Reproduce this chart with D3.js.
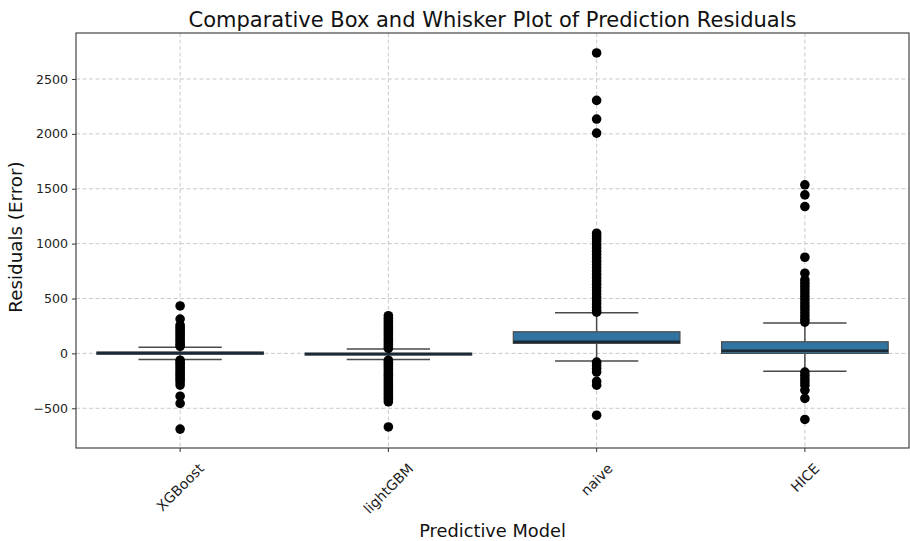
<!DOCTYPE html>
<html>
<head>
<meta charset="utf-8">
<script src="https://cdn.jsdelivr.net/npm/d3@7"></script>
<style>
  html, body { margin: 0; padding: 0; background: #fff; }
  svg { display: block; font-family: "DejaVu Sans", sans-serif; }
</style>
</head>
<body>
<svg id="chart" width="910" height="541"></svg>
<script>
// ---------------- data ----------------
const categories = ["XGBoost", "lightGBM", "naive", "HICE"];
const q1Values = [-8, -15, 91, 0];
const medianValues = [3, -6, 106, 24];
const q3Values = [12, 2, 197, 106];
const whiskerLow = [-55, -55, -70, -162];
const whiskerHigh = [55, 39, 370, 276];
const outliersXGBoost = [432, 313, 258, 240, 220, 200, 180, 160, 140, 120, 100, 80, 65,
  -62, -80, -100, -120, -140, -160, -180, -200, -220, -240, -260, -289, -390, -456, -690];
const outliersLightGBM = [343, 320, 300, 280, 260, 240, 220, 200, 180, 160, 140, 120, 100, 80, 60, 45,
  -62, -80, -100, -120, -140, -160, -180, -200, -220, -240, -260, -280, -300, -320, -340, -360, -380, -400, -420, -441, -670];
const outliersNaive = [2737, 2305, 2135, 2007, 1095, 1070, 1045, 1020, 990, 960, 930, 900, 870, 840, 810,
  780, 750, 720, 690, 660, 630, 600, 570, 540, 510, 480, 450, 420, 390, 375,
  -80, -110, -140, -170, -255, -290, -563];
const outliersHICE = [1536, 1444, 1338, 876, 730, 669, 640, 610, 580, 550, 520, 490, 460, 430, 400, 370, 340, 310, 285,
  -170, -200, -230, -260, -290, -335, -410, -602];
const outlierSets = [outliersXGBoost, outliersLightGBM, outliersNaive, outliersHICE];
const yTicks = [-500, 0, 500, 1000, 1500, 2000, 2500];
const yDomain = [-862, 2919];

const titleText = "Comparative Box and Whisker Plot of Prediction Residuals";
const xLabelText = "Predictive Model";
const yLabelText = "Residuals (Error)";

// ---------------- layout ----------------
(function () {
const mL = 76, mR = 909, mT = 33, mB = 448;
const svg = d3.select("#chart");

const x = d3.scaleBand().domain(categories).range([mL, mR]).paddingInner(0).paddingOuter(0);
const y = d3.scaleLinear().domain(yDomain).range([mB, mT]);
const bw = x.bandwidth();
const cx = c => x(c) + bw / 2;

const gridColor = "#bdbdbd";
svg.append("g").selectAll("line").data(yTicks).join("line")
  .attr("x1", mL).attr("x2", mR)
  .attr("y1", d => y(d)).attr("y2", d => y(d))
  .attr("stroke", gridColor).attr("stroke-width", 0.8).attr("stroke-dasharray", "4,2.5");
svg.append("g").selectAll("line").data(categories).join("line")
  .attr("x1", d => cx(d)).attr("x2", d => cx(d))
  .attr("y1", mT).attr("y2", mB)
  .attr("stroke", gridColor).attr("stroke-width", 0.8).attr("stroke-dasharray", "4,2.5");

const rows = categories.map((c, i) => ({
  c, q1: q1Values[i], med: medianValues[i], q3: q3Values[i],
  lo: whiskerLow[i], hi: whiskerHigh[i], out: outlierSets[i]
}));
const boxW = bw * 0.8;
const capW = boxW * 0.5;
const lineColor = "#4a4a4a";
const g = svg.append("g");
rows.forEach(r => {
  const xc = cx(r.c);
  g.append("line").attr("x1", xc).attr("x2", xc).attr("y1", y(r.q3)).attr("y2", y(r.hi))
    .attr("stroke", lineColor).attr("stroke-width", 1.5);
  g.append("line").attr("x1", xc).attr("x2", xc).attr("y1", y(r.q1)).attr("y2", y(r.lo))
    .attr("stroke", lineColor).attr("stroke-width", 1.5);
  [r.hi, r.lo].forEach(v => {
    g.append("line").attr("x1", xc - capW / 2).attr("x2", xc + capW / 2)
      .attr("y1", y(v)).attr("y2", y(v))
      .attr("stroke", lineColor).attr("stroke-width", 1.5);
  });
  g.append("rect").attr("x", xc - boxW / 2).attr("width", boxW)
    .attr("y", y(r.q3)).attr("height", Math.max(0.5, y(r.q1) - y(r.q3)))
    .attr("fill", "#3274a1").attr("stroke", "#4a4a4a").attr("stroke-width", 1.2);
  g.append("line").attr("x1", xc - boxW / 2).attr("x2", xc + boxW / 2)
    .attr("y1", y(r.med)).attr("y2", y(r.med))
    .attr("stroke", "#1b2a38").attr("stroke-width", 2.5);
  g.append("g").selectAll("circle").data(r.out).join("circle")
    .attr("cx", xc).attr("cy", d => y(d)).attr("r", 4.8).attr("fill", "#000");
});

svg.append("rect").attr("x", mL).attr("y", mT).attr("width", mR - mL).attr("height", mB - mT)
  .attr("fill", "none").attr("stroke", "#333").attr("stroke-width", 1.1);

const yAxis = svg.append("g").attr("transform", `translate(${mL},0)`)
  .call(d3.axisLeft(y).tickValues(yTicks).tickSize(4).tickPadding(4)
    .tickFormat(d => d < 0 ? "\u2212" + Math.abs(d) : String(d)));
yAxis.select(".domain").remove();
yAxis.selectAll("line").attr("stroke", "#333");
yAxis.selectAll("text").attr("font-size", 12.6).attr("fill", "#222")
  .attr("font-family", "DejaVu Sans, sans-serif");

const xAxis = svg.append("g").attr("transform", `translate(0,${mB})`)
  .call(d3.axisBottom(x).tickSize(4).tickFormat(""));
xAxis.select(".domain").remove();
xAxis.selectAll("line").attr("stroke", "#333");

const labelTop = 461;
const fs = 14;
categories.forEach(c => {
  const t = svg.append("text").text(c)
    .attr("font-size", fs).attr("fill", "#222")
    .attr("text-anchor", "middle").attr("dominant-baseline", "central");
  const L = t.node().getComputedTextLength();
  const h = (L + fs * 1.0) * Math.SQRT1_2;
  t.attr("transform", `translate(${cx(c)},${labelTop + h / 2}) rotate(-45)`);
});

svg.append("text").attr("x", (mL + mR) / 2).attr("y", 27)
  .attr("text-anchor", "middle").attr("font-size", 21).attr("fill", "#111").text(titleText);
svg.append("text").attr("x", (mL + mR) / 2).attr("y", 537)
  .attr("text-anchor", "middle").attr("font-size", 17.8).attr("fill", "#111").text(xLabelText);
svg.append("text").attr("transform", `translate(22,237) rotate(-90)`)
  .attr("text-anchor", "middle").attr("font-size", 18.3).attr("fill", "#111").text(yLabelText);
})();
</script>
</body>
</html>
